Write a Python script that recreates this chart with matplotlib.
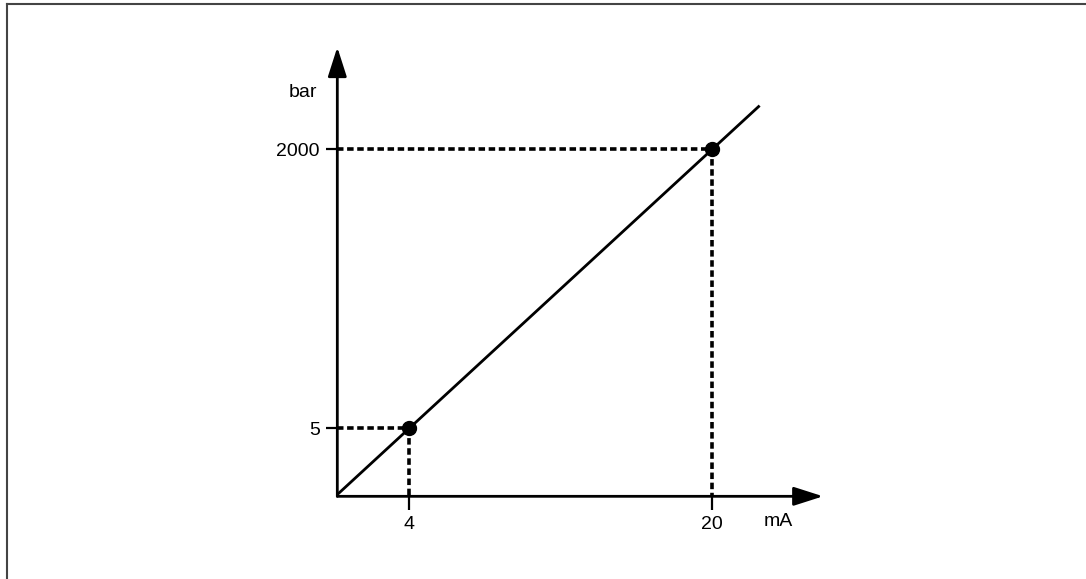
import matplotlib
matplotlib.use("Agg")
import matplotlib.pyplot as plt
from matplotlib.lines import Line2D

# signal range of the transmitter (mA) and the pressure it stands for (bar)
current_ma = [4, 20]
pressure_bar = [5, 2000]
x_labels = ["4", "20"]
y_labels = ["5", "2000"]

# the straight transfer line, drawn in signal units on both axes
line_ma = [0.2, 22.5]

plt.rcParams['font.family'] = ['Liberation Sans', 'DejaVu Sans']


# draw the schematic transfer function of a 4-20 mA pressure transmitter
# input: none
# output: None (saves out.png)
def draw_transfer_chart():
    fig = plt.figure(figsize=(10.86, 5.79), dpi=100)
    ax = fig.add_axes([0.3106, 0.1428, 0.4473, 0.7757])
    ax.set_xlim(0.2, 25.85)
    ax.set_ylim(0.1, 25.85)

    # hide the normal frame, the arrows take its place
    for side in ax.spines.values():
        side.set_visible(False)

    # axis arrows
    arrow_style = dict(arrowstyle="-|>,head_length=1.0,head_width=0.32",
                       lw=2.0, color="black", mutation_scale=18,
                       shrinkA=0, shrinkB=0)
    ax.annotate("", xy=(1, 0), xytext=(0, 0), xycoords="axes fraction",
                arrowprops=arrow_style)
    ax.annotate("", xy=(0, 1), xytext=(0, 0), xycoords="axes fraction",
                arrowprops=arrow_style)

    # transfer line
    ax.plot(line_ma, line_ma, color="black", lw=2.0, solid_capstyle="butt")

    # dotted guides from each point back to the axes
    x0, y0 = ax.get_xlim()[0], ax.get_ylim()[0]
    for ma in current_ma:
        ax.plot([x0, ma], [ma, ma], color="black", lw=2.6, dashes=(1.8, 1.0))
        ax.plot([ma, ma], [ma, y0], color="black", lw=2.6, dashes=(1.8, 1.0))

    # the two calibration points
    ax.plot(current_ma, current_ma, "o", color="black", markersize=10)

    # ticks with the signal on x and the pressure on y
    ax.set_xticks(current_ma, x_labels)
    ax.set_yticks(current_ma, y_labels)
    ax.tick_params(axis="x", direction="out", length=10, width=1.6, pad=4.5, labelsize=14)
    ax.tick_params(axis="y", direction="out", length=8, width=1.6, pad=4.5, labelsize=14)

    # unit labels
    ax.text(-0.0706, 0.898, "bar", transform=ax.transAxes, ha="center", va="center",
            fontsize=14, clip_on=False)
    ax.text(0.907, -0.055, "mA", transform=ax.transAxes, ha="center", va="center",
            fontsize=14, clip_on=False)

    # thin frame on the left and top edge of the picture
    fig.add_artist(Line2D([6.5 / 1086, 6.5 / 1086], [0, 1 - 3.5 / 579],
                          transform=fig.transFigure, color="#444444", lw=1.5))
    fig.add_artist(Line2D([6.5 / 1086, 1], [1 - 3.5 / 579, 1 - 3.5 / 579],
                          transform=fig.transFigure, color="#444444", lw=1.5))

    fig.savefig("out.png", dpi=100)


def main():
    draw_transfer_chart()

main()
